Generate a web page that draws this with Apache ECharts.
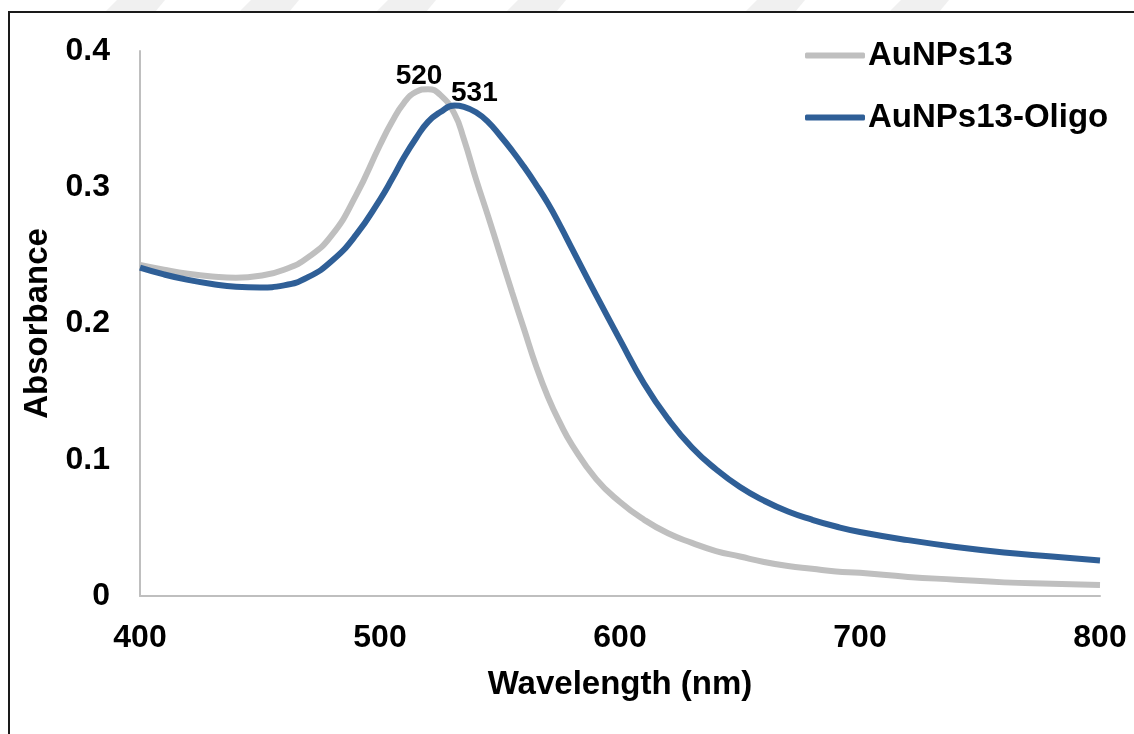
<!DOCTYPE html>
<html>
<head>
<meta charset="utf-8">
<title>AuNPs13 absorbance</title>
<script src="https://cdn.jsdelivr.net/npm/echarts@6/dist/echarts.min.js"></script>
<style>
  html, body { margin: 0; padding: 0; background: #fff; }
  #container { width: 1134px; height: 734px; }
</style>
</head>
<body>
<div id="container"></div>
<script>
// wavelength (nm) and absorbance
var wavelengths = [400, 410, 420, 430, 440, 450, 460, 470, 480, 490, 500, 505, 510, 515, 520, 525, 531, 535, 540, 545, 550, 555, 560, 565, 570, 575, 580, 590, 600, 610, 620, 630, 640, 650, 660, 670, 680, 690, 700, 720, 740, 760, 780, 800];
var aunps13 = [0.243, 0.2395, 0.2365, 0.2345, 0.2335, 0.235, 0.2395, 0.2485, 0.265, 0.294, 0.331, 0.348, 0.362, 0.370, 0.372, 0.368, 0.354, 0.335, 0.306, 0.279, 0.251, 0.223, 0.196, 0.169, 0.146, 0.127, 0.111, 0.086, 0.069, 0.056, 0.046, 0.039, 0.033, 0.029, 0.025, 0.022, 0.020, 0.018, 0.017, 0.014, 0.012, 0.010, 0.009, 0.008];
var aunps13Oligo = [0.241, 0.236, 0.232, 0.229, 0.227, 0.2265, 0.228, 0.234, 0.246, 0.265, 0.291, 0.306, 0.322, 0.336, 0.348, 0.355, 0.360, 0.359, 0.355, 0.348, 0.338, 0.327, 0.315, 0.302, 0.288, 0.272, 0.255, 0.221, 0.188, 0.156, 0.130, 0.109, 0.093, 0.080, 0.070, 0.062, 0.056, 0.051, 0.047, 0.041, 0.036, 0.032, 0.029, 0.026];
var seriesNames = ['AuNPs13', 'AuNPs13-Oligo'];
var peaks = [520, 531];
var xTicks = [400, 500, 600, 700, 800];
var yTicks = [0, 0.1, 0.2, 0.3, 0.4];

var FONT = '"Liberation Sans", Arial, sans-serif';

function pairs(values) {
  return wavelengths.map(function (wl, i) { return [wl, values[i]]; });
}

// label sitting above the peak of a series
function peakMark(values, peak, offset) {
  var i = wavelengths.indexOf(peak);
  return {
    silent: true,
    symbol: 'circle',
    symbolSize: 0,
    label: {
      show: true,
      position: 'top',
      distance: 6,
      offset: offset,
      formatter: String(peak),
      fontFamily: FONT,
      fontWeight: 'bold',
      fontSize: 28,
      color: '#000'
    },
    data: [{ coord: [peak, values[i]] }]
  };
}

// light watermark bands above the frame
var bands = [105, 239, 376, 506, 745, 889].map(function (x0) {
  return {
    type: 'polygon',
    silent: true,
    shape: { points: [[x0 + 12, 0], [x0 + 60, 0], [x0 + 50, 12], [x0, 12]] },
    style: { fill: '#f0f0f0' }
  };
});

var myChart = echarts.init(document.getElementById('container'));
var option = {
  backgroundColor: '#fff',
  animation: false,
  grid: { left: 140, right: 34, top: 51, bottom: 138 },
  legend: {
    orient: 'vertical',
    left: 805,
    top: 39,
    padding: 0,
    itemWidth: 60,
    itemHeight: 6,
    itemGap: 29,
    icon: 'roundRect',
    data: seriesNames,
    textStyle: {
      fontFamily: FONT,
      fontWeight: 'bold',
      fontSize: 33,
      lineHeight: 33,
      color: '#000',
      padding: [0, 0, 0, -2]
    }
  },
  xAxis: {
    type: 'value',
    min: xTicks[0],
    max: xTicks[xTicks.length - 1],
    interval: 100,
    name: 'Wavelength (nm)',
    nameLocation: 'middle',
    nameGap: 72,
    nameTextStyle: { fontFamily: FONT, fontWeight: 'bold', fontSize: 33, color: '#000' },
    axisLine: { show: true, lineStyle: { color: '#bfbfbf', width: 2 } },
    axisTick: { show: false },
    splitLine: { show: false },
    axisLabel: { fontFamily: FONT, fontWeight: 'bold', fontSize: 32, color: '#000', margin: 26 }
  },
  yAxis: {
    type: 'value',
    min: yTicks[0],
    max: yTicks[yTicks.length - 1],
    interval: 0.1,
    name: 'Absorbance',
    nameLocation: 'middle',
    nameGap: 86,
    nameTextStyle: { fontFamily: FONT, fontWeight: 'bold', fontSize: 33, color: '#000' },
    axisLine: { show: true, lineStyle: { color: '#bfbfbf', width: 2 } },
    axisTick: { show: false },
    splitLine: { show: false },
    axisLabel: { fontFamily: FONT, fontWeight: 'bold', fontSize: 32, color: '#000', margin: 30 }
  },
  series: [
    {
      name: seriesNames[0],
      type: 'line',
      smooth: true,
      showSymbol: false,
      symbol: 'none',
      color: '#bfbfbf',
      lineStyle: { color: '#bfbfbf', width: 6 },
      data: pairs(aunps13),
      markPoint: peakMark(aunps13, peaks[0], [-9, 7])
    },
    {
      name: seriesNames[1],
      type: 'line',
      smooth: true,
      showSymbol: false,
      symbol: 'none',
      color: '#2f5f97',
      lineStyle: { color: '#2f5f97', width: 6 },
      data: pairs(aunps13Oligo),
      markPoint: peakMark(aunps13Oligo, peaks[1], [20, 8])
    }
  ],
  graphic: bands.concat([
    {
      type: 'polyline',
      silent: true,
      shape: { points: [[9, 734], [9, 12], [1134, 12]] },
      style: { stroke: '#1a1a1a', lineWidth: 2, fill: null }
    }
  ])
};
myChart.setOption(option);
</script>
</body>
</html>
